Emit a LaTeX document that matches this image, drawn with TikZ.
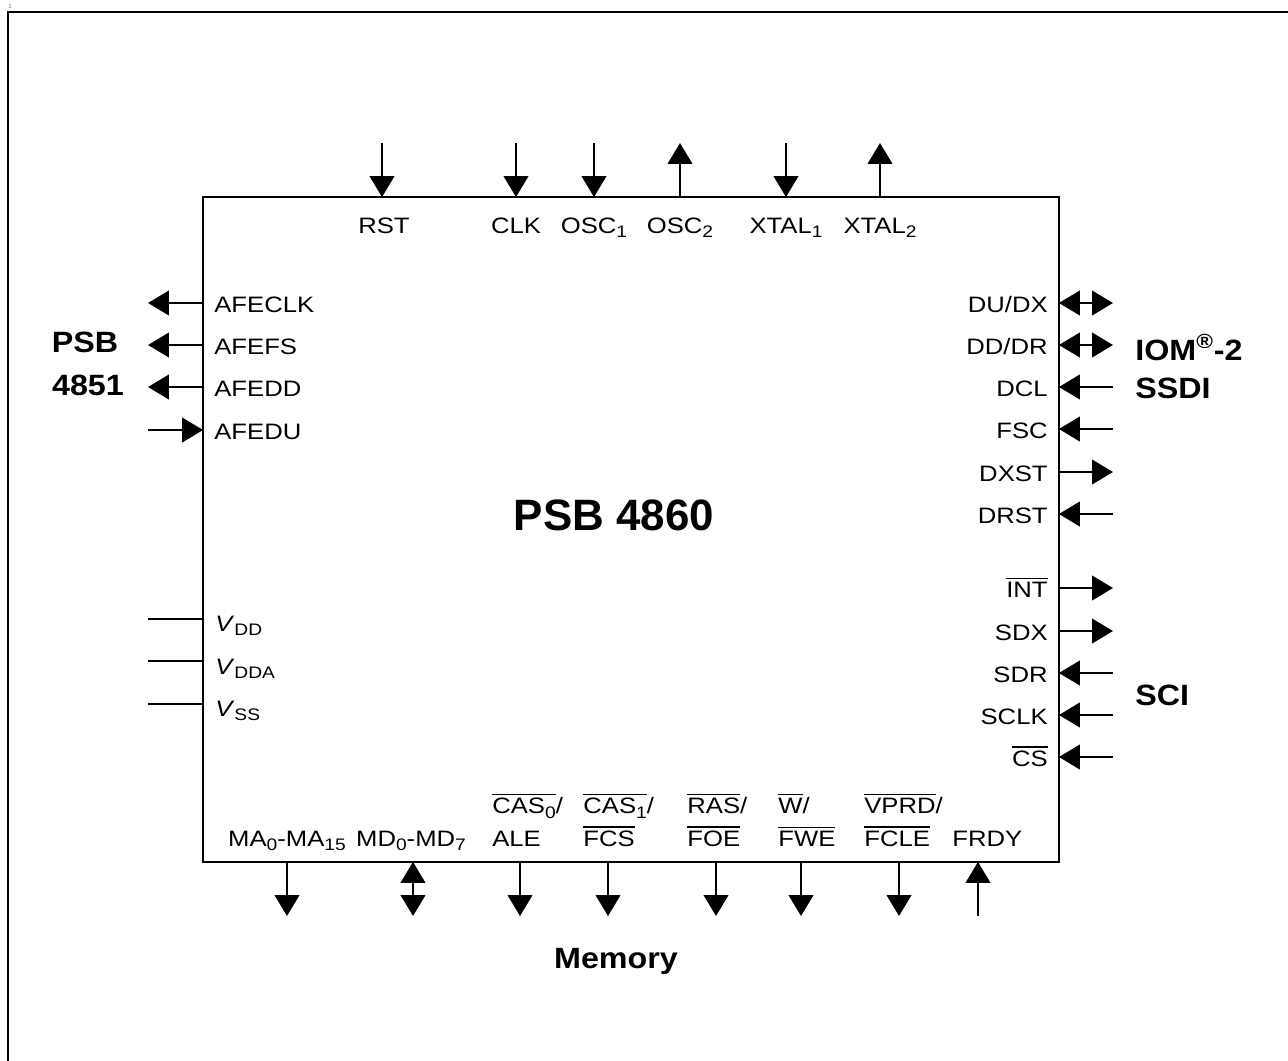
\documentclass[tikz,border=0pt]{standalone}
\usepackage{fontspec}
\setmainfont{Liberation Sans}
\newfontfamily\pinfont{Liberation Sans}[FakeStretch=1.15]
\newfontfamily\busfont{Liberation Sans}[FakeStretch=1.1]
\usetikzlibrary{arrows.meta}
% subscript and active-low bar
\newcommand{\sbs}[1]{\raisebox{-2.8pt}{\fontsize{9.5}{9.5}\selectfont #1}}
\newcommand{\ovl}[1]{\setbox0\hbox{#1}\rlap{\rule[\dimexpr\ht0+1.6pt]{\wd0}{0.7pt}}\box0}
\begin{document}
\begin{tikzpicture}[x=0.02cm,y=-0.02cm,>={Triangle[length=11.9pt,width=14pt]},
  pin/.style={line width=1.1pt},
  pinout/.style={pin,->},pinin/.style={pin,<-},pinbi/.style={pin,<->},
  lbl/.style={inner sep=0pt,font=\pinfont\fontsize{12.7}{18.7}\selectfont},
  bus/.style={inner sep=0pt,font=\busfont\bfseries\fontsize{16.7}{19}\selectfont}]
  \useasboundingbox (0,0) rectangle (1288,1061);
  \draw[line width=1.1pt] (8,1061) -- (8,12) -- (1288,12);
  \node[inner sep=0pt,text=gray,font=\fontsize{3.5}{4}\selectfont] (pg) at (10,6) {1};
  % chip
  \node[draw,line width=1.1pt,inner sep=0pt,outer sep=0pt,minimum width=17.12cm,minimum height=13.3cm] (chip) at (631,529.5) {};
  \node[inner sep=0pt,anchor=base,font=\bfseries\fontsize{25}{30}\selectfont] (title) at (614,530) {PSB 4860};
  % top pins
  \node[lbl,anchor=base] (rst) at (384,233) {RST};
  \node[lbl,anchor=base] (clk) at (516,233) {CLK};
  \node[lbl,anchor=base] (osc1) at (594,233) {OSC\sbs{1}};
  \node[lbl,anchor=base] (osc2) at (680,233) {OSC\sbs{2}};
  \node[lbl,anchor=base] (xtal1) at (786,233) {XTAL\sbs{1}};
  \node[lbl,anchor=base] (xtal2) at (880,233) {XTAL\sbs{2}};
  \coordinate (rst-p) at (382,143);
  \coordinate (clk-p) at (516,143);
  \coordinate (osc1-p) at (594,143);
  \coordinate (osc2-p) at (680,143);
  \coordinate (xtal1-p) at (786,143);
  \coordinate (xtal2-p) at (880,143);
  \draw[pinin] (rst-p |- chip.north) -- (rst-p);
  \draw[pinin] (clk-p |- chip.north) -- (clk-p);
  \draw[pinin] (osc1-p |- chip.north) -- (osc1-p);
  \draw[pinout] (osc2-p |- chip.north) -- (osc2-p);
  \draw[pinin] (xtal1-p |- chip.north) -- (xtal1-p);
  \draw[pinout] (xtal2-p |- chip.north) -- (xtal2-p);
  % left pins
  \node[lbl,anchor=base west] (afeclk) at (214,312) {AFECLK};
  \node[lbl,anchor=base west] (afefs) at (214,354) {AFEFS};
  \node[lbl,anchor=base west] (afedd) at (214,396) {AFEDD};
  \node[lbl,anchor=base west] (afedu) at (214,439) {AFEDU};
  \coordinate (afeclk-p) at (148,303);
  \coordinate (afefs-p) at (148,345);
  \coordinate (afedd-p) at (148,387);
  \coordinate (afedu-p) at (148,430);
  \draw[pinout] (afeclk-p -| chip.west) -- (afeclk-p);
  \draw[pinout] (afefs-p -| chip.west) -- (afefs-p);
  \draw[pinout] (afedd-p -| chip.west) -- (afedd-p);
  \draw[pinin] (afedu-p -| chip.west) -- (afedu-p);
  \node[bus,anchor=base] (psb) at (85,352) {PSB};
  \node[bus,anchor=base] (n4851) at (88,395) {4851};
  % supply
  \node[lbl,anchor=base west] (vdd) at (215,631) {\textit{V}\sbs{DD}};
  \node[lbl,anchor=base west] (vdda) at (215,674) {\textit{V}\sbs{DDA}};
  \node[lbl,anchor=base west] (vss) at (215,716) {\textit{V}\sbs{SS}};
  \coordinate (vdd-p) at (148,619);
  \coordinate (vdda-p) at (148,661);
  \coordinate (vss-p) at (148,704);
  \draw[pin] (vdd-p -| chip.west) -- (vdd-p);
  \draw[pin] (vdda-p -| chip.west) -- (vdda-p);
  \draw[pin] (vss-p -| chip.west) -- (vss-p);
  % right pins
  \node[lbl,anchor=base east] (dudx) at (1048,312) {DU/DX};
  \node[lbl,anchor=base east] (dddr) at (1048,354) {DD/DR};
  \node[lbl,anchor=base east] (dcl) at (1048,396) {DCL};
  \node[lbl,anchor=base east] (fsc) at (1048,438) {FSC};
  \node[lbl,anchor=base east] (dxst) at (1048,481) {DXST};
  \node[lbl,anchor=base east] (drst) at (1048,523) {DRST};
  \node[lbl,anchor=base east] (int) at (1048,597) {\ovl{INT}};
  \node[lbl,anchor=base east] (sdx) at (1048,640) {SDX};
  \node[lbl,anchor=base east] (sdr) at (1048,682) {SDR};
  \node[lbl,anchor=base east] (sclk) at (1048,724) {SCLK};
  \node[lbl,anchor=base east] (cs) at (1048,766) {\ovl{CS}};
  \coordinate (dudx-p) at (1113,303);
  \coordinate (dddr-p) at (1113,345);
  \coordinate (dcl-p) at (1113,387);
  \coordinate (fsc-p) at (1113,429);
  \coordinate (dxst-p) at (1113,472);
  \coordinate (drst-p) at (1113,514);
  \coordinate (int-p) at (1113,588);
  \coordinate (sdx-p) at (1113,631);
  \coordinate (sdr-p) at (1113,673);
  \coordinate (sclk-p) at (1113,715);
  \coordinate (cs-p) at (1113,757);
  \draw[pinbi] (dudx-p -| chip.east) -- (dudx-p);
  \draw[pinbi] (dddr-p -| chip.east) -- (dddr-p);
  \draw[pinin] (dcl-p -| chip.east) -- (dcl-p);
  \draw[pinin] (fsc-p -| chip.east) -- (fsc-p);
  \draw[pinout] (dxst-p -| chip.east) -- (dxst-p);
  \draw[pinin] (drst-p -| chip.east) -- (drst-p);
  \draw[pinout] (int-p -| chip.east) -- (int-p);
  \draw[pinout] (sdx-p -| chip.east) -- (sdx-p);
  \draw[pinin] (sdr-p -| chip.east) -- (sdr-p);
  \draw[pinin] (sclk-p -| chip.east) -- (sclk-p);
  \draw[pinin] (cs-p -| chip.east) -- (cs-p);
  \node[bus,anchor=base west] (iom) at (1135,360) {IOM\textsuperscript{®}-2};
  \node[bus,anchor=base west] (ssdi) at (1135,398) {SSDI};
  \node[bus,anchor=base west] (sci) at (1135,705) {SCI};
  % bottom pins
  \node[lbl,anchor=base] (ma) at (287,846) {MA\sbs{0}-MA\sbs{15}};
  \node[lbl,anchor=base] (md) at (411,846) {MD\sbs{0}-MD\sbs{7}};
  \node[lbl,anchor=base west,align=left] (cas0) at (492,846) {\ovl{CAS\sbs{0}}/\\ALE};
  \node[lbl,anchor=base west,align=left] (cas1) at (583,846) {\ovl{CAS\sbs{1}}/\\\ovl{FCS}};
  \node[lbl,anchor=base west,align=left] (ras) at (687,846) {\ovl{RAS}/\\\ovl{FOE}};
  \node[lbl,anchor=base west,align=left] (w) at (778,846) {\ovl{W}/\\\ovl{FWE}};
  \node[lbl,anchor=base west,align=left] (vprd) at (864,846) {\ovl{VPRD}/\\\ovl{FCLE}};
  \node[lbl,anchor=base west] (frdy) at (952,846) {FRDY};
  \coordinate (ma-p) at (287,916);
  \coordinate (md-p) at (413,916);
  \coordinate (cas0-p) at (520,916);
  \coordinate (cas1-p) at (608,916);
  \coordinate (ras-p) at (716,916);
  \coordinate (w-p) at (801,916);
  \coordinate (vprd-p) at (899,916);
  \coordinate (frdy-p) at (978,916);
  \draw[pinout] (ma-p |- chip.south) -- (ma-p);
  \draw[pinbi] (md-p |- chip.south) -- (md-p);
  \draw[pinout] (cas0-p |- chip.south) -- (cas0-p);
  \draw[pinout] (cas1-p |- chip.south) -- (cas1-p);
  \draw[pinout] (ras-p |- chip.south) -- (ras-p);
  \draw[pinout] (w-p |- chip.south) -- (w-p);
  \draw[pinout] (vprd-p |- chip.south) -- (vprd-p);
  \draw[pinin] (frdy-p |- chip.south) -- (frdy-p);
  \node[bus,anchor=base] (mem) at (616,968) {Memory};
\end{tikzpicture}
\end{document}
